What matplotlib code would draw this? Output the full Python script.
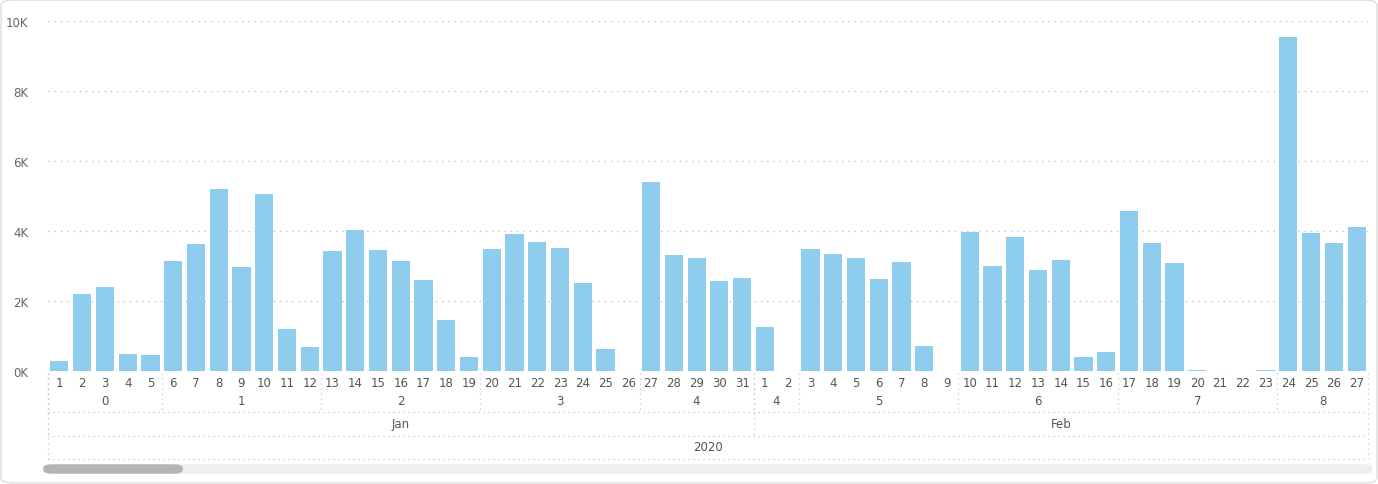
import matplotlib.pyplot as plt
from matplotlib.patches import FancyBboxPatch
from matplotlib.lines import Line2D

jan_values = [0.30, 2.20, 2.40, 0.50, 0.47, 3.15, 3.63, 5.20, 2.97, 5.06, 1.20, 0.70,
              3.43, 4.03, 3.46, 3.14, 2.60, 1.46, 0.40, 3.49, 3.91, 3.69, 3.51, 2.51,
              0.63, 0.0, 5.40, 3.31, 3.23, 2.57, 2.66]
feb_values = [1.26, 0.0, 3.49, 3.34, 3.23, 2.63, 3.11, 0.71, 0.0, 3.97, 3.00, 3.83,
              2.89, 3.17, 0.40, 0.54, 4.57, 3.66, 3.09, 0.03, 0.0, 0.0, 0.03, 9.54,
              3.94, 3.66, 4.11]
jan_days = list(range(1, 32))
feb_days = list(range(1, 28))
# (label, number of days) per week segment, split at the month boundary
week_groups = [("0", 5), ("1", 7), ("2", 7), ("3", 7), ("4", 5),
               ("4", 2), ("5", 7), ("6", 7), ("7", 7), ("8", 4)]
month_groups = [("Jan", 31), ("Feb", 27)]
year_label = "2020"

values = [v * 1000 for v in jan_values + feb_values]
days = jan_days + feb_days
n = len(values)

W, H = 1378, 485
fig = plt.figure(figsize=(W / 100, H / 100), dpi=100)
ax = fig.add_axes([48 / W, (H - 372) / H, 1320 / W, 350 / H])
ax.bar(range(n), values, width=0.8, color="#8ECDEE", zorder=2)
ax.set_xlim(-0.5, n - 0.5)
ax.set_ylim(0, 10000)
ax.set_yticks(range(0, 10001, 2000))
ax.set_yticklabels([f"{t // 1000}K" for t in range(0, 10001, 2000)], fontsize=8.5, color="#666666")
ax.yaxis.grid(True, linestyle=(0, (1, 4)), color="#bbbbbb", linewidth=0.9)
ax.tick_params(axis="y", length=0, pad=14)
ax.set_xticks([])
for s in ax.spines.values():
    s.set_visible(False)


def ay(py):
    return (372 - py) / 350


txt = dict(ha="center", va="center", fontsize=8.5, color="#555555", clip_on=False,
           transform=ax.get_xaxis_transform())
grid = dict(color="#c8c8c8", linestyle=(0, (1, 3)), linewidth=0.9, clip_on=False,
            transform=ax.get_xaxis_transform())

for i, d in enumerate(days):
    ax.text(i, ay(384), str(d), **txt)

pos = 0
for lab, cnt in week_groups:
    ax.text(pos + cnt / 2 - 0.5, ay(402), lab, **txt)
    ax.add_line(Line2D([pos - 0.5, pos - 0.5], [ay(374), ay(413)], **grid))
    pos += cnt

pos = 0
for lab, cnt in month_groups:
    ax.text(pos + cnt / 2 - 0.5, ay(425), lab, **txt)
    ax.add_line(Line2D([pos - 0.5, pos - 0.5], [ay(374), ay(437)], **grid))
    pos += cnt
ax.text((n - 1) / 2, ay(448), year_label, **txt)
for x in (-0.5, n - 0.5):
    ax.add_line(Line2D([x, x], [ay(374), ay(460)], **grid))
for py in (413, 437, 460):
    ax.add_line(Line2D([-0.5, n - 0.5], [ay(py), ay(py)], **grid))

# scrollbar and card border
fig.patches.append(FancyBboxPatch((44 / W, 1 - 474 / H), 1328 / W, 8 / H,
                                  boxstyle="round,pad=0,rounding_size=0.006",
                                  transform=fig.transFigure, color="#eeeeee"))
fig.patches.append(FancyBboxPatch((44 / W, 1 - 474 / H), 138 / W, 8 / H,
                                  boxstyle="round,pad=0,rounding_size=0.006",
                                  transform=fig.transFigure, color="#b3b3b3"))
fig.patches.append(FancyBboxPatch((1 / W, 1 / H), 1 - 2 / W, 1 - 2 / H,
                                  boxstyle="round,pad=0,rounding_size=0.01",
                                  transform=fig.transFigure, fill=False,
                                  edgecolor="#dddddd", linewidth=1))

fig.savefig("out.png", dpi=100)
